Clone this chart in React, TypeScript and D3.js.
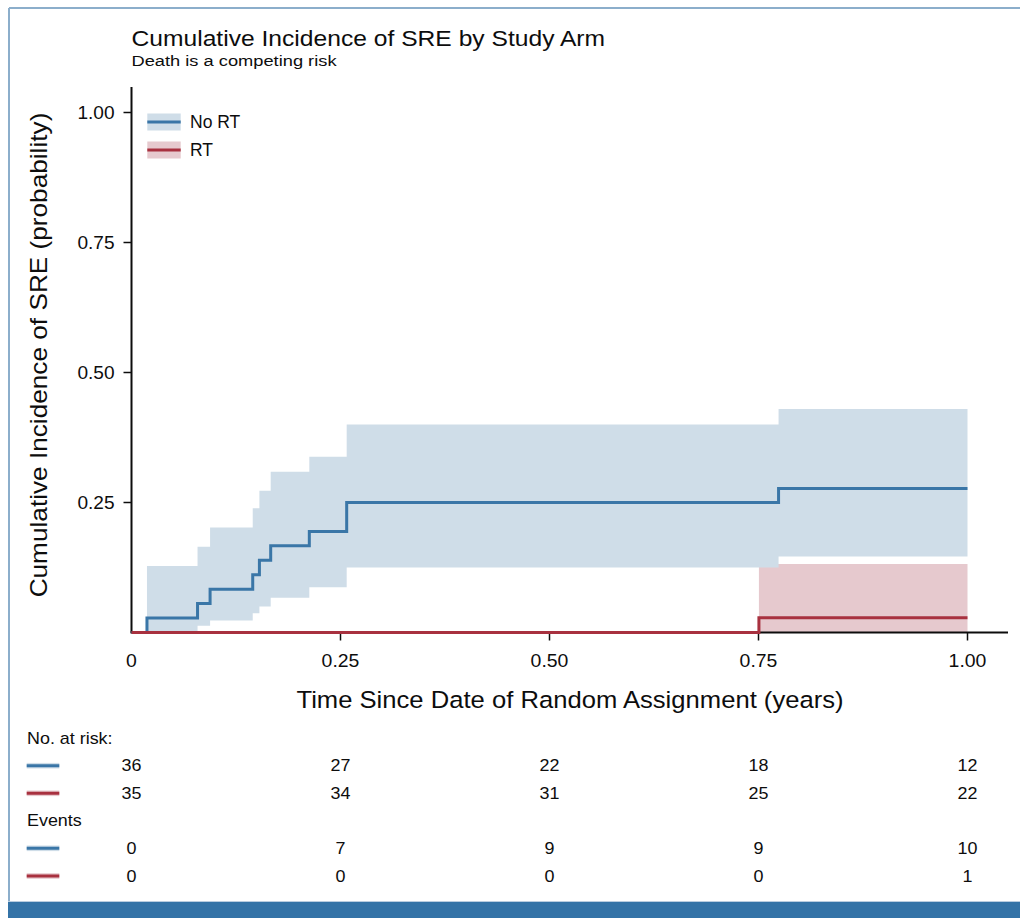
import React from 'react';
import * as d3 from 'd3';

// Cumulative incidence estimates (step function) with 95% confidence bounds
const timesNoRT = [0, 0.0185, 0.079, 0.094, 0.145, 0.153, 0.1665, 0.2127, 0.2574, 0.774];
const cifNoRT = [0, 0.0278, 0.0556, 0.0833, 0.1111, 0.1389, 0.1667, 0.1944, 0.25, 0.2768];
const lowerNoRT = [0, 0, 0.013, 0.023, 0.037, 0.05, 0.067, 0.087, 0.125, 0.146];
const upperNoRT = [0, 0.128, 0.165, 0.202, 0.239, 0.2725, 0.309, 0.338, 0.4, 0.43];

const timesRT = [0, 0.7505];
const cifRT = [0, 0.0286];
const lowerRT = [0, 0];
const upperRT = [0, 0.1315];

const followUpEnd = 1.0;

const yTicks = [0.25, 0.5, 0.75, 1.0];
const yTickLabels = ['0.25', '0.50', '0.75', '1.00'];
const xTicks = [0, 0.25, 0.5, 0.75, 1.0];
const xTickLabels = ['0', '0.25', '0.50', '0.75', '1.00'];

const armNames = ['No RT', 'RT'];
const atRiskNoRT = [36, 27, 22, 18, 12];
const atRiskRT = [35, 34, 31, 25, 22];
const eventsNoRT = [0, 7, 9, 9, 10];
const eventsRT = [0, 0, 0, 0, 1];

const BLUE = '#3a76a7';
const BLUE_BAND = '#cfdde8';
const RED = '#a8313f';
const RED_BAND = '#e6c9ce';
const INK = '#0d0d0d';
const FONT = "'Liberation Sans', Arial, Helvetica, sans-serif";

type Pt = { t: number; est: number; lo: number; hi: number };

function buildSeries(times: number[], est: number[], lo: number[], hi: number[]): Pt[] {
  const pts = times.map((t, i) => ({ t, est: est[i], lo: lo[i], hi: hi[i] }));
  const last = pts[pts.length - 1];
  pts.push({ ...last, t: followUpEnd });
  return pts;
}

function Label(props: {
  x: number; y: number; size: number; sx?: number; anchor?: string; rotate?: number;
  fill?: string; children: React.ReactNode;
}) {
  const { x, y, size, sx = 1, anchor = 'start', rotate = 0, fill = INK, children } = props;
  return (
    <text
      transform={`translate(${x},${y}) rotate(${rotate}) scale(${sx},1)`}
      fontSize={size}
      textAnchor={anchor as any}
      fontFamily={FONT}
      fill={fill}
    >
      {children}
    </text>
  );
}

export default function App() {
  const x = d3.scaleLinear().domain([0, 1]).range([131.5, 967.5]);
  const y = d3.scaleLinear().domain([0, 1]).range([632.5, 112.5]);

  const noRT = buildSeries(timesNoRT, cifNoRT, lowerNoRT, upperNoRT);
  const rt = buildSeries(timesRT, cifRT, lowerRT, upperRT);

  const band = d3
    .area<Pt>()
    .x((d) => x(d.t))
    .y0((d) => y(d.lo))
    .y1((d) => y(d.hi))
    .curve(d3.curveStepAfter);
  const line = d3
    .line<Pt>()
    .x((d) => x(d.t))
    .y((d) => y(d.est))
    .curve(d3.curveStepAfter);

  const firstBand = (s: Pt[]) => s.slice(s.findIndex((p) => p.hi > 0));

  const axisLeft = 131.5;
  const axisBottom = y(0);
  const axisRight = 1008;
  const axisTop = 87;

  const tableRows = [
    { label: 'No. at risk:', y: 744 },
    { values: atRiskNoRT, color: BLUE, halo: BLUE_BAND, y: 765.7 },
    { values: atRiskRT, color: RED, halo: RED_BAND, y: 793.3 },
    { label: 'Events', y: 826 },
    { values: eventsNoRT, color: BLUE, halo: BLUE_BAND, y: 848.3 },
    { values: eventsRT, color: RED, halo: RED_BAND, y: 876 },
  ];

  const legend = [
    { name: armNames[0], color: BLUE, halo: BLUE_BAND, cy: 122 },
    { name: armNames[1], color: RED, halo: RED_BAND, cy: 150 },
  ];

  return (
    <svg
      width={1020}
      height={918}
      style={{ position: 'absolute', left: 0, top: 0, background: '#fff' }}
    >
      {/* frame */}
      <rect x={0} y={0} width={1020} height={918} fill="#fff" />
      <line x1={9} x2={1020} y1={8} y2={8} stroke="#8caecb" strokeWidth={2} />
      <line x1={9} x2={9} y1={8} y2={902} stroke="#8caecb" strokeWidth={2} />
      <rect x={8} y={901.5} width={1012} height={17} fill="#3473a7" />
      <line x1={8} x2={1020} y1={901.5} y2={901.5} stroke="#b9cde0" strokeWidth={1} />

      {/* titles */}
      <Label x={131.5} y={45.7} size={22} sx={1.12}>
        Cumulative Incidence of SRE by Study Arm
      </Label>
      <Label x={131.5} y={65.7} size={14.5} sx={1.26}>
        Death is a competing risk
      </Label>

      {/* confidence bands */}
      <path d={band(firstBand(rt)) || ''} fill={RED_BAND} />
      <path d={band(firstBand(noRT)) || ''} fill={BLUE_BAND} />

      {/* axes */}
      <line x1={axisLeft} x2={axisLeft} y1={axisTop} y2={axisBottom} stroke={INK} strokeWidth={2} />
      <line x1={axisLeft - 1} x2={axisRight} y1={axisBottom} y2={axisBottom} stroke={INK} strokeWidth={2} />
      {yTicks.map((v, i) => (
        <g key={`yt${i}`}>
          <line x1={axisLeft - 8} x2={axisLeft} y1={y(v)} y2={y(v)} stroke={INK} strokeWidth={1.5} />
          <Label x={114.5} y={y(v) + 6.2} size={17.5} sx={1.09} anchor="end">
            {yTickLabels[i]}
          </Label>
        </g>
      ))}
      {xTicks.map((v, i) => (
        <g key={`xt${i}`}>
          {v > 0 && (
            <line x1={x(v)} x2={x(v)} y1={axisBottom} y2={axisBottom + 8} stroke={INK} strokeWidth={1.5} />
          )}
          <Label x={x(v)} y={667} size={17.5} sx={1.11} anchor="middle">
            {xTickLabels[i]}
          </Label>
        </g>
      ))}

      {/* estimate lines */}
      <path d={line(noRT) || ''} fill="none" stroke={BLUE} strokeWidth={3} />
      <path d={line(rt) || ''} fill="none" stroke={RED} strokeWidth={3} />

      {/* axis titles */}
      <Label x={570} y={708.3} size={23.5} sx={1.09} anchor="middle">
        Time Since Date of Random Assignment (years)
      </Label>
      <Label x={46.5} y={355} size={23.5} sx={1.115} anchor="middle" rotate={-90}>
        Cumulative Incidence of SRE (probability)
      </Label>

      {/* legend */}
      {legend.map((l) => (
        <g key={l.name}>
          <rect x={147.3} y={l.cy - 8.5} width={33.4} height={17} fill={l.halo} />
          <line x1={147.3} x2={180.7} y1={l.cy} y2={l.cy} stroke={l.color} strokeWidth={3} />
          <Label x={190} y={l.cy + 6.3} size={17.5}>
            {l.name}
          </Label>
        </g>
      ))}

      {/* risk table */}
      {tableRows.map((r, ri) =>
        r.values ? (
          <g key={`row${ri}`}>
            <rect x={26.7} y={r.y - 2.8} width={32.6} height={5.6} fill={r.halo} />
            <line x1={26.7} x2={59.3} y1={r.y} y2={r.y} stroke={r.color} strokeWidth={3} />
            {r.values.map((v, i) => (
              <Label key={i} x={x(xTicks[i])} y={r.y + 5.7} size={16} sx={1.12} anchor="middle">
                {v}
              </Label>
            ))}
          </g>
        ) : (
          <Label key={`row${ri}`} x={27} y={r.y} size={16} sx={1.12}>
            {r.label}
          </Label>
        )
      )}
    </svg>
  );
}
